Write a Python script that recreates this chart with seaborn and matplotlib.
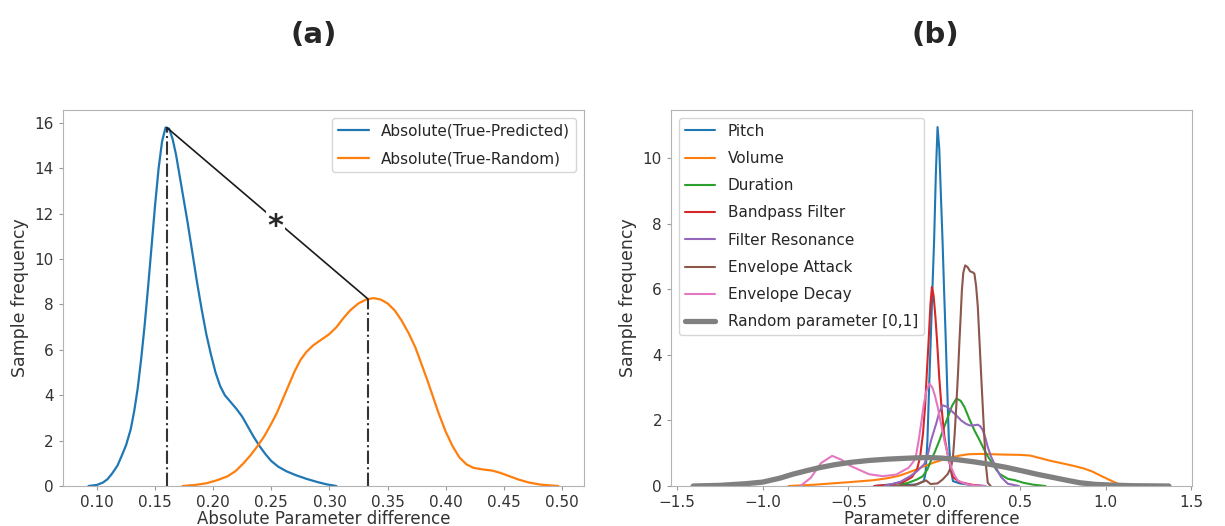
import matplotlib
matplotlib.use("Agg")
import matplotlib.pyplot as plt
import seaborn as sns

# ---- panel (a): absolute parameter difference densities ----
pred_x = [0.0926, 0.100, 0.105, 0.109, 0.113, 0.1176, 0.121, 0.125, 0.129, 0.132, 0.135, 0.138,
          0.141, 0.144, 0.147, 0.150, 0.153, 0.156, 0.159, 0.162, 0.165, 0.168, 0.171, 0.174,
          0.178, 0.182, 0.186, 0.190, 0.194, 0.198, 0.202, 0.206, 0.210, 0.215, 0.220, 0.225,
          0.230, 0.235, 0.240, 0.245, 0.250, 0.256, 0.263, 0.271, 0.280, 0.290, 0.298, 0.306]
pred_y = [0.0, 0.05, 0.15, 0.3, 0.55, 0.9, 1.3, 1.8, 2.5, 3.3, 4.3, 5.6,
          7.1, 8.8, 10.6, 12.4, 14.0, 15.2, 15.8, 15.75, 15.3, 14.6, 13.7, 12.8,
          11.6, 10.3, 9.0, 7.8, 6.7, 5.8, 5.0, 4.4, 4.0, 3.7, 3.4, 3.05,
          2.6, 2.15, 1.75, 1.4, 1.1, 0.85, 0.65, 0.48, 0.32, 0.17, 0.07, 0.0]

rand_x = [0.1735, 0.185, 0.194, 0.203, 0.212, 0.219, 0.226, 0.232, 0.238, 0.244, 0.250, 0.255,
          0.260, 0.265, 0.270, 0.275, 0.280, 0.286, 0.293, 0.300, 0.306, 0.312, 0.318, 0.325,
          0.332, 0.338, 0.344, 0.350, 0.356, 0.362, 0.368, 0.374, 0.379, 0.384, 0.389, 0.394,
          0.400, 0.406, 0.412, 0.418, 0.424, 0.432, 0.440, 0.447, 0.455, 0.463, 0.472, 0.482,
          0.497]
rand_y = [0.0, 0.05, 0.12, 0.25, 0.42, 0.65, 1.0, 1.35, 1.75, 2.2, 2.75, 3.25,
          3.85, 4.45, 5.05, 5.55, 5.9, 6.2, 6.45, 6.7, 7.0, 7.4, 7.75, 8.05,
          8.23, 8.28, 8.22, 8.05, 7.75, 7.3, 6.75, 6.1, 5.4, 4.7, 3.95, 3.2,
          2.4, 1.75, 1.25, 0.95, 0.8, 0.73, 0.68, 0.58, 0.43, 0.28, 0.15, 0.06,
          0.0]

peak_pred = (0.160, 15.8)
peak_rand = (0.333, 8.25)

# ---- panel (b): per-parameter differences ----
pitch_x = [-0.35, -0.25, -0.2, -0.16, -0.1, -0.06, -0.05, -0.039, -0.03, -0.02, -0.01, 0.0,
           0.01, 0.02, 0.03, 0.04, 0.049, 0.058, 0.068, 0.077, 0.086, 0.097, 0.11, 0.15,
           0.22, 0.3]
pitch_y = [0.0, 0.05, 0.12, 0.03, 0.05, 0.15, 0.4, 1.39, 2.9, 4.44, 6.0, 7.5,
           9.5, 10.95, 10.3, 8.8, 7.5, 6.0, 4.44, 2.9, 1.39, 0.5, 0.15, 0.08,
           0.03, 0.0]

volume_x = [-0.85, -0.7, -0.49, -0.35, -0.27, -0.2, -0.13, -0.06, 0.0, 0.07, 0.14, 0.2,
            0.27, 0.4, 0.5, 0.56, 0.62, 0.67, 0.74, 0.81, 0.87, 0.92, 0.97, 1.03, 1.08, 1.12]
volume_y = [0.0, 0.04, 0.12, 0.18, 0.24, 0.32, 0.45, 0.6, 0.72, 0.83, 0.92, 0.97,
            0.98, 0.96, 0.95, 0.93, 0.85, 0.78, 0.7, 0.62, 0.54, 0.45, 0.32, 0.17, 0.05, 0.0]

duration_x = [-0.22, -0.15, -0.1, -0.066, -0.04, -0.018, 0.005, 0.031, 0.055, 0.08, 0.105,
              0.13, 0.155, 0.177, 0.205, 0.235, 0.265, 0.294, 0.32, 0.343, 0.362, 0.382,
              0.43, 0.47, 0.52, 0.58, 0.65]
duration_y = [0.0, 0.1, 0.2, 0.3, 0.5, 0.78, 1.05, 1.39, 1.75, 2.1, 2.45,
              2.67, 2.6, 2.41, 2.05, 1.7, 1.4, 1.09, 0.85, 0.67, 0.5, 0.37,
              0.22, 0.18, 0.1, 0.04, 0.0]

bandpass_x = [-0.35, -0.25, -0.18, -0.13, -0.1, -0.082, -0.065, -0.053, -0.042, -0.032,
              -0.022, -0.013, -0.003, 0.007, 0.017, 0.03, 0.043, 0.06, 0.082, 0.11, 0.15,
              0.22, 0.28]
bandpass_y = [0.0, 0.04, 0.12, 0.27, 0.5, 0.88, 1.6, 2.41, 3.5, 4.44,
              5.5, 6.07, 5.8, 5.2, 4.44, 3.3, 2.41, 1.5, 0.88, 0.27, 0.12,
              0.04, 0.0]

resonance_x = [-0.29, -0.2, -0.14, -0.1, -0.057, -0.035, -0.018, 0.0, 0.012, 0.03, 0.05,
               0.075, 0.1, 0.13, 0.158, 0.185, 0.207, 0.23, 0.255, 0.27, 0.284, 0.3, 0.313,
               0.332, 0.352, 0.372, 0.391, 0.43, 0.495]
resonance_y = [0.0, 0.12, 0.3, 0.45, 0.67, 1.0, 1.39, 1.7, 1.9, 2.25, 2.46,
               2.42, 2.3, 2.15, 2.0, 1.9, 1.85, 1.85, 1.87, 1.82, 1.7, 1.45, 1.19,
               0.9, 0.67, 0.45, 0.27, 0.07, 0.0]

attack_x = [-0.25, -0.12, -0.07, -0.047, -0.02, 0.02, 0.05, 0.08, 0.1, 0.11, 0.12, 0.129,
            0.139, 0.148, 0.155, 0.162, 0.17, 0.181, 0.195, 0.21, 0.225, 0.235, 0.245, 0.255,
            0.265, 0.274, 0.284, 0.294, 0.303, 0.313, 0.33]
attack_y = [0.0, 0.02, 0.12, 0.17, 0.06, 0.08, 0.2, 0.37, 0.6, 0.88, 1.6, 2.41,
            3.4, 4.44, 5.2, 5.97, 6.5, 6.73, 6.68, 6.55, 6.52, 6.48, 6.1, 5.46,
            4.4, 3.43, 2.4, 1.39, 0.6, 0.1, 0.0]

decay_x = [-0.78, -0.72, -0.66, -0.595, -0.54, -0.49, -0.38, -0.3, -0.22, -0.17, -0.15,
           -0.12, -0.105, -0.09, -0.076, -0.06, -0.045, -0.027, -0.01, 0.005, 0.021, 0.04,
           0.06, 0.08, 0.099, 0.12, 0.138, 0.18, 0.23, 0.3]
decay_y = [0.0, 0.25, 0.7, 0.92, 0.8, 0.62, 0.36, 0.3, 0.35, 0.5, 0.55,
           0.75, 0.95, 1.4, 1.9, 2.5, 2.9, 3.12, 3.0, 2.75, 2.41, 1.9,
           1.39, 0.95, 0.58, 0.32, 0.17, 0.07, 0.02, 0.0]

random_x = [-1.406, -1.25, -1.1, -1.0, -0.9, -0.825, -0.75, -0.67, -0.58, -0.49, -0.38, -0.27,
            -0.15, -0.04, 0.05, 0.14, 0.23, 0.315, 0.42, 0.516, 0.6, 0.695, 0.78, 0.85, 0.94,
            1.03, 1.15, 1.37]
random_y = [0.0, 0.02, 0.07, 0.12, 0.24, 0.36, 0.46, 0.56, 0.65, 0.72, 0.78, 0.82,
            0.85, 0.87, 0.85, 0.8, 0.74, 0.67, 0.57, 0.46, 0.36, 0.26, 0.17, 0.1, 0.05,
            0.03, 0.01, 0.0]

param_names = ["Pitch", "Volume", "Duration", "Bandpass Filter", "Filter Resonance",
               "Envelope Attack", "Envelope Decay", "Random parameter [0,1]"]
param_xs = [pitch_x, volume_x, duration_x, bandpass_x, resonance_x, attack_x, decay_x, random_x]
param_ys = [pitch_y, volume_y, duration_y, bandpass_y, resonance_y, attack_y, decay_y, random_y]

sns.set_style("white")
plt.rcParams["font.family"] = ["DejaVu Sans"]
plt.rcParams["axes.edgecolor"] = "0.7"
plt.rcParams["xtick.color"] = "0.6"
plt.rcParams["ytick.color"] = "0.6"
plt.rcParams["xtick.labelcolor"] = "0.2"
plt.rcParams["ytick.labelcolor"] = "0.2"

fig = plt.figure(figsize=(12.25, 5.26), dpi=100)
ax1 = fig.add_axes([0.0514, 0.076, 0.4253, 0.7148])
ax2 = fig.add_axes([0.5478, 0.076, 0.4253, 0.7148])

tab = sns.color_palette("tab10")

# panel (a)
sns.lineplot(x=pred_x, y=pred_y, ax=ax1, color=tab[0], lw=1.6, sort=False,
             estimator=None, label="Absolute(True-Predicted)")
sns.lineplot(x=rand_x, y=rand_y, ax=ax1, color=tab[1], lw=1.6, sort=False,
             estimator=None, label="Absolute(True-Random)")
for px, py in (peak_pred, peak_rand):
    ax1.plot([px, px], [0, py], ls="-.", color="0.2", lw=1.5)
ax1.plot([peak_pred[0], peak_rand[0]], [peak_pred[1], peak_rand[1]], color="0.1", lw=1.2)
ax1.text(0.2535, 11.45, "*", fontsize=22, fontweight="bold", ha="center", va="center",
         bbox=dict(facecolor="white", edgecolor="none", pad=1))
ax1.set_xlim(0.0707, 0.519)
ax1.set_ylim(0, 16.57)
ax1.set_xticks([0.10, 0.15, 0.20, 0.25, 0.30, 0.35, 0.40, 0.45, 0.50])
ax1.set_xticklabels(["0.10", "0.15", "0.20", "0.25", "0.30", "0.35", "0.40", "0.45", "0.50"])
ax1.set_yticks(range(0, 17, 2))
ax1.set_xlabel("Absolute Parameter difference", fontsize=12, color="0.2", labelpad=0)
ax1.set_ylabel("Sample frequency", fontsize=12.5, color="0.2")
ax1.legend(loc="upper right", fontsize=11, frameon=True, labelspacing=0.8)

# panel (b)
for i, (name, xs, ys) in enumerate(zip(param_names, param_xs, param_ys)):
    if name.startswith("Random"):
        col, lw = "grey", 3.8
    else:
        col, lw = tab[i], 1.5
    sns.lineplot(x=xs, y=ys, ax=ax2, color=col, lw=lw, sort=False, estimator=None, label=name)
ax2.set_xlim(-1.535, 1.505)
ax2.set_ylim(0, 11.47)
ax2.set_xticks([-1.5, -1.0, -0.5, 0.0, 0.5, 1.0, 1.5])
ax2.set_yticks(range(0, 11, 2))
ax2.set_xlabel("Parameter difference", fontsize=12, color="0.2", labelpad=0)
ax2.set_ylabel("Sample frequency", fontsize=12.5, color="0.2")
ax2.legend(loc="upper left", fontsize=11, frameon=True, labelspacing=0.8)

for ax in (ax1, ax2):
    ax.tick_params(labelsize=11, length=3, width=0.8, bottom=True, left=True)

fig.text(314 / 1225, 1 - 35 / 526, "(a)", fontsize=21, fontweight="bold",
         ha="center", va="center", color="0.15")
fig.text(935 / 1225, 1 - 35 / 526, "(b)", fontsize=21, fontweight="bold",
         ha="center", va="center", color="0.15")

plt.savefig("out.png", dpi=100)
